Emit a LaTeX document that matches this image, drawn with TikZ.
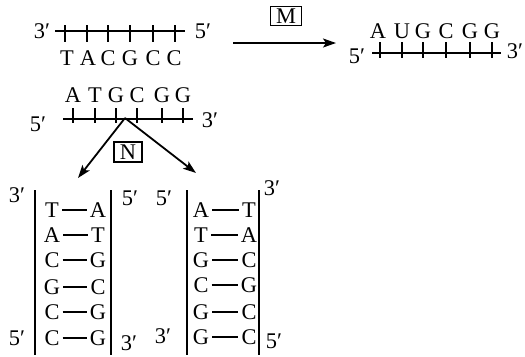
\documentclass[tikz,border=0pt]{standalone}
\usepackage{fontspec}
\setmainfont{Liberation Serif}
\usetikzlibrary{arrows.meta}
\begin{document}
\begin{tikzpicture}[x=1bp,y=-1bp,
  font=\fontsize{22.5}{22.5}\selectfont,
  strand/.style={line width=1.8bp},
  tickline/.style={line width=1.4bp},
  base/.style={inner sep=0pt, anchor=base},
  pairdash/.style={line width=1.6bp, shorten <=3bp, shorten >=3bp},
  side/.style={line width=1.8bp},
  arr/.style={line width=1.8bp, -{Stealth[length=13bp,width=9bp,inset=3bp]}},
  boxlab/.style={draw, line width=1.1bp, inner sep=0pt, text height=15bp, text depth=0pt}]
\useasboundingbox (0,0) rectangle (525,356);

% ---------- top-left strand 3' -> 5'
\node[base] (tl3) at (42,38) {3′};
\node[base] (tl5) at (203,38) {5′};
\coordinate (s1a) at (55,31);
\coordinate (s1b) at (185,31);
\draw[strand] (s1a) -- (s1b);
\foreach \x in {65,87,108,130,153,175} \draw[tickline] (\x,25) -- (\x,42);
\foreach \x/\b [count=\i] in {67/T,88/A,108/C,130/G,153/C,174/C}
  \node[base] (t\i) at (\x,65) {\b};

% ---------- arrow M
\coordinate (ma) at (233,43);
\coordinate (mb) at (336,43);
\draw[arr] (ma) -- (mb);
\node[boxlab, minimum width=31bp, minimum height=19bp] (M) at (286,16) {M};

% ---------- top-right strand (RNA)
\node[base] (tr5) at (357,63) {5′};
\node[base] (tr3) at (515,58) {3′};
\coordinate (s2a) at (372,53);
\coordinate (s2b) at (501,53);
\draw[strand] (s2a) -- (s2b);
\foreach \x in {380,402,423,446,470,492} \draw[tickline] (\x,42) -- (\x,58);
\foreach \x/\b [count=\i] in {378/A,402/U,423/G,446/C,470/G,492/G}
  \node[base] (r\i) at (\x,38) {\b};

% ---------- middle strand
\node[base] (m5) at (38,131) {5′};
\node[base] (m3) at (210,127) {3′};
\coordinate (s3a) at (63,119);
\coordinate (s3b) at (193,119);
\draw[strand] (s3a) -- (s3b);
\foreach \x in {73,95,116,137,162,183} \draw[tickline] (\x,108) -- (\x,123);
\foreach \x/\b [count=\i] in {73/A,95/T,116/G,137/C,162/G,183/G}
  \node[base] (a\i) at (\x,102) {\b};

% ---------- arrows N
\coordinate (nsrc) at (125,118);
\coordinate (ntipL) at (78,178);
\coordinate (ntipR) at (196,173);
\draw[arr] (nsrc) -- (ntipL);
\draw[arr] (nsrc) -- (ntipR);
\node[boxlab, minimum width=28bp, minimum height=20bp] (N) at (128,152) {N};

% ---------- left ladder
\coordinate (LLt) at (35,190);
\coordinate (LLb) at (35,355);
\coordinate (LRt) at (111,190);
\coordinate (LRb) at (111,355);
\draw[side] (LLt) -- (LLb);
\draw[side] (LRt) -- (LRb);
\node[base] (lq1) at (17,202) {3′};
\node[base] (lq2) at (130,205) {5′};
\node[base] (lq3) at (17,345) {5′};
\node[base] (lq4) at (129,350) {3′};
\foreach \y/\p/\q [count=\i] in {217/T/A,242/A/T,267/C/G,294/G/C,319/C/G,345/C/G}{
  \node[base] (ll\i) at (52,\y) {\p};
  \node[base] (lr\i) at (98,\y) {\q};
  \draw[pairdash] (ll\i.east |- 0,\y-7) -- (lr\i.west |- 0,\y-7);
}

% ---------- right ladder
\coordinate (RLt) at (187,190);
\coordinate (RLb) at (187,355);
\coordinate (RRt) at (259,190);
\coordinate (RRb) at (259,355);
\draw[side] (RLt) -- (RLb);
\draw[side] (RRt) -- (RRb);
\node[base] (rq1) at (164,205) {5′};
\node[base] (rq2) at (272,195) {3′};
\node[base] (rq3) at (163,343) {3′};
\node[base] (rq4) at (274,348) {5′};
\foreach \y/\p/\q [count=\i] in {217/A/T,242/T/A,267/G/C,292/C/G,319/G/C,344/G/C}{
  \node[base] (rl\i) at (201,\y) {\p};
  \node[base] (rr\i) at (249,\y) {\q};
  \draw[pairdash] (rl\i.east |- 0,\y-7) -- (rr\i.west |- 0,\y-7);
}
\end{tikzpicture}
\end{document}
